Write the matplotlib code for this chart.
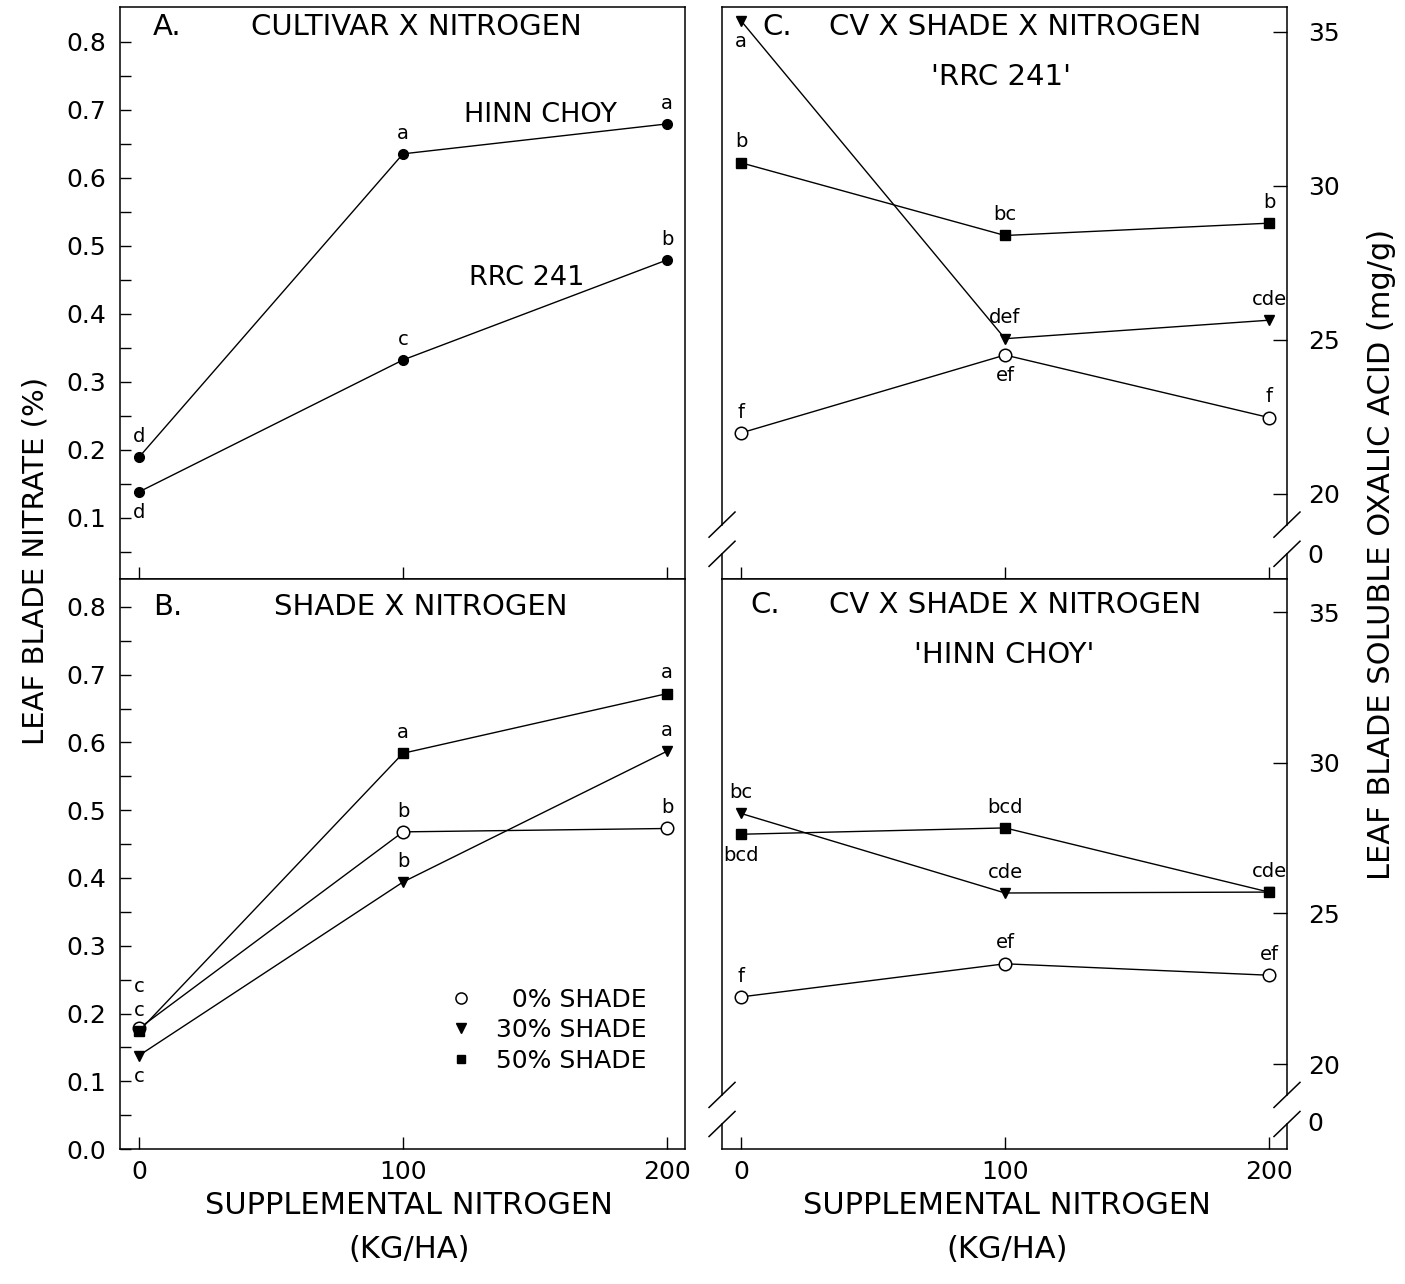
import matplotlib
matplotlib.use("Agg")
from matplotlib import pyplot as plt
from matplotlib.lines import Line2D

plt.rcParams['font.family'] = ['DejaVu Sans']

nitrogen = [0, 100, 200]

# A. cultivar x nitrogen (leaf blade nitrate, %)
hinn_choy = [0.189, 0.635, 0.679]
rrc_241 = [0.138, 0.332, 0.479]
hinn_letters = ["d", "a", "a"]
hinn_sides = [1, 1, 1]
rrc_letters = ["d", "c", "b"]
rrc_sides = [-1, 1, 1]

# B. shade x nitrogen (leaf blade nitrate, %)
shade_names = ["\u20070% SHADE", "30% SHADE", "50% SHADE"]
b_shade_0 = [0.178, 0.468, 0.473]
b_shade_30 = [0.138, 0.394, 0.587]
b_shade_50 = [0.174, 0.584, 0.672]
b_letters_0 = ["c", "b", "b"]
b_sides_0 = [2, 1, 1]
b_letters_30 = ["c", "b", "a"]
b_sides_30 = [-1, 1, 1]
b_letters_50 = ["c", "a", "a"]
b_sides_50 = [1, 1, 1]

# C. cv x shade x nitrogen, 'RRC 241' (soluble oxalic acid, mg/g)
rrc_shade_0 = [21.98, 24.51, 22.48]
rrc_shade_30 = [35.36, 25.04, 25.64]
rrc_shade_50 = [30.75, 28.39, 28.79]
rrc_letters_0 = ["f", "ef", "f"]
rrc_sides_0 = [1, -1, 1]
rrc_letters_30 = ["a", "def", "cde"]
rrc_sides_30 = [-1, 1, 1]
rrc_letters_50 = ["b", "bc", "b"]
rrc_sides_50 = [1, 1, 1]

# C. cv x shade x nitrogen, 'HINN CHOY'
hc_shade_0 = [22.23, 23.33, 22.95]
hc_shade_30 = [28.32, 25.68, 25.71]
hc_shade_50 = [27.63, 27.84, 25.71]
hc_letters_0 = ["f", "ef", "ef"]
hc_sides_0 = [1, 1, 1]
hc_letters_30 = ["bc", "cde", ""]
hc_sides_30 = [1, 1, 1]
hc_letters_50 = ["bcd", "bcd", "cde"]
hc_sides_50 = [-1, 1, 1]

nitrate_ticks = [0.0, 0.1, 0.2, 0.3, 0.4, 0.5, 0.6, 0.7, 0.8]
nitrate_minor = [0.05, 0.15, 0.25, 0.35, 0.45, 0.55, 0.65, 0.75]
oxalic_ticks = [18.08, 20, 25, 30, 35]
oxalic_labels = ["0", "20", "25", "30", "35"]

STYLES = {
    "filled": dict(marker="o", ms=7, mfc="k", mec="k"),
    "open": dict(marker="o", ms=9, mfc="white", mec="k", mew=1.1),
    "tri": dict(marker="v", ms=7.5, mfc="k", mec="k"),
    "square": dict(marker="s", ms=6.5, mfc="k", mec="k"),
}


def plot_series(ax, ys, style, letters, sides, z):
    ax.plot(nitrogen, ys, color="k", lw=1.0, clip_on=False, zorder=z, **STYLES[style])
    for x, y, s, side in zip(nitrogen, ys, letters, sides):
        if s:
            ax.annotate(s, (x, y), xytext=(0, 15 * side), textcoords="offset points",
                        ha="center", va="center", fontsize=14)


def frame_left(ax, ylim, ticks, labels_on):
    ax.set_xlim(-7.2, 206.8)
    ax.set_ylim(*ylim)
    ax.set_xticks(nitrogen)
    ax.set_yticks([t for t in nitrate_ticks if ylim[0] <= t <= ylim[1]])
    ax.set_yticks(nitrate_minor, minor=True)
    ax.yaxis.set_major_formatter(matplotlib.ticker.FormatStrFormatter("%.1f"))
    ax.tick_params(axis="y", which="both", direction="in", length=8, width=1, pad=10,
                   labelsize=18, left=True, right=False)
    ax.tick_params(axis="x", direction="in", length=9, width=1, pad=8, labelsize=18,
                   labelbottom=labels_on)
    for sp in ax.spines.values():
        sp.set_linewidth(1.1)


def frame_right(ax, ylim, labels_on):
    ax.set_xlim(-7.2, 206.8)
    ax.set_ylim(*ylim)
    ax.set_xticks(nitrogen)
    ax.yaxis.tick_right()
    ax.set_yticks(oxalic_ticks)
    ax.set_yticklabels(oxalic_labels)
    ax.tick_params(axis="y", direction="in", length=10, width=1, pad=15, labelsize=18,
                   left=False, right=True)
    ax.tick_params(axis="x", direction="in", length=9, width=1, pad=8, labelsize=18,
                   labelbottom=labels_on)
    ax.yaxis.get_major_ticks()[0].tick2line.set_visible(False)
    ax.spines["top"].set_linewidth(1.1)
    ax.spines["bottom"].set_linewidth(1.1)
    ax.spines["left"].set_visible(False)
    ax.spines["right"].set_visible(False)
    # broken y axis on both sides
    lo, hi = 0.044, 0.095
    dx, dy = 0.023, 0.022
    for xs in (0, 1):
        ax.plot([xs, xs], [0, lo], transform=ax.transAxes, color="k", lw=1.1, clip_on=False)
        ax.plot([xs, xs], [hi, 1], transform=ax.transAxes, color="k", lw=1.1, clip_on=False)
        for yc in (lo, hi):
            ax.plot([xs - dx, xs + dx], [yc - dy, yc + dy], transform=ax.transAxes,
                    color="k", lw=1.1, clip_on=False)


fig = plt.figure(figsize=(14.05, 12.84), dpi=100)
ax_a = fig.add_axes([0.0854, 0.5491, 0.4021, 0.4455])
ax_b = fig.add_axes([0.0854, 0.1051, 0.4021, 0.4439])
ax_c1 = fig.add_axes([0.5139, 0.5491, 0.4021, 0.4455])
ax_c2 = fig.add_axes([0.5139, 0.1051, 0.4021, 0.4439])

TITLE = 21

# A
frame_left(ax_a, (0.010, 0.851), nitrate_ticks, False)
plot_series(ax_a, hinn_choy, "filled", hinn_letters, hinn_sides, 3)
plot_series(ax_a, rrc_241, "filled", rrc_letters, rrc_sides, 3)
ax_a.text(152, 0.692, "HINN CHOY", ha="center", va="center", fontsize=19.5)
ax_a.text(147, 0.453, "RRC 241", ha="center", va="center", fontsize=19.5)
ax_a.text(0.058, 0.965, "A.", transform=ax_a.transAxes, ha="left", va="center", fontsize=TITLE)
ax_a.text(0.524, 0.965, "CULTIVAR X NITROGEN", transform=ax_a.transAxes,
          ha="center", va="center", fontsize=TITLE)

# B
frame_left(ax_b, (0.0, 0.841), nitrate_ticks, True)
plot_series(ax_b, b_shade_30, "tri", b_letters_30, b_sides_30, 3)
plot_series(ax_b, b_shade_0, "open", b_letters_0, b_sides_0, 4)
plot_series(ax_b, b_shade_50, "square", b_letters_50, b_sides_50, 5)
ax_b.text(0.058, 0.951, "B.", transform=ax_b.transAxes, ha="left", va="center", fontsize=TITLE)
ax_b.text(0.533, 0.951, "SHADE X NITROGEN", transform=ax_b.transAxes,
          ha="center", va="center", fontsize=TITLE)
handles = [Line2D([], [], ls="none", **dict(STYLES["open"], ms=8)),
           Line2D([], [], ls="none", **dict(STYLES["tri"], ms=7)),
           Line2D([], [], ls="none", **dict(STYLES["square"], ms=6))]
ax_b.legend(handles, shade_names, loc="lower right", bbox_to_anchor=(0.955, 0.112),
            frameon=False, fontsize=18, handletextpad=0.9, labelspacing=0.26,
            borderpad=0, handlelength=1.0)

# C - RRC 241
frame_right(ax_c1, (17.24, 35.81), False)
plot_series(ax_c1, rrc_shade_0, "open", rrc_letters_0, rrc_sides_0, 4)
plot_series(ax_c1, rrc_shade_30, "tri", rrc_letters_30, rrc_sides_30, 3)
plot_series(ax_c1, rrc_shade_50, "square", rrc_letters_50, rrc_sides_50, 5)
ax_c1.text(0.071, 0.965, "C.", transform=ax_c1.transAxes, ha="left", va="center", fontsize=TITLE)
ax_c1.text(0.519, 0.965, "CV X SHADE X NITROGEN", transform=ax_c1.transAxes,
           ha="center", va="center", fontsize=TITLE)
ax_c1.text(0.494, 0.878, "'RRC 241'", transform=ax_c1.transAxes,
           ha="center", va="center", fontsize=TITLE)

# C - HINN CHOY
frame_right(ax_c2, (17.18, 36.10), True)
plot_series(ax_c2, hc_shade_0, "open", hc_letters_0, hc_sides_0, 4)
plot_series(ax_c2, hc_shade_30, "tri", hc_letters_30, hc_sides_30, 3)
plot_series(ax_c2, hc_shade_50, "square", hc_letters_50, hc_sides_50, 5)
ax_c2.text(0.050, 0.954, "C.", transform=ax_c2.transAxes, ha="left", va="center", fontsize=TITLE)
ax_c2.text(0.519, 0.954, "CV X SHADE X NITROGEN", transform=ax_c2.transAxes,
           ha="center", va="center", fontsize=TITLE)
ax_c2.text(0.50, 0.867, "'HINN CHOY'", transform=ax_c2.transAxes,
           ha="center", va="center", fontsize=TITLE)

# shared axis titles
fig.text(0.025, 0.563, "LEAF BLADE NITRATE (%)", rotation=90, ha="center", va="center",
         fontsize=21)
fig.text(0.9836, 0.568, "LEAF BLADE SOLUBLE OXALIC ACID (mg/g)", rotation=90,
         ha="center", va="center", fontsize=22)
for xc in (0.291, 0.717):
    fig.text(xc, 0.0615, "SUPPLEMENTAL NITROGEN", ha="center", va="center", fontsize=22)
    fig.text(xc, 0.0265, "(KG/HA)", ha="center", va="center", fontsize=22)

fig.savefig("out.png", dpi=100)
